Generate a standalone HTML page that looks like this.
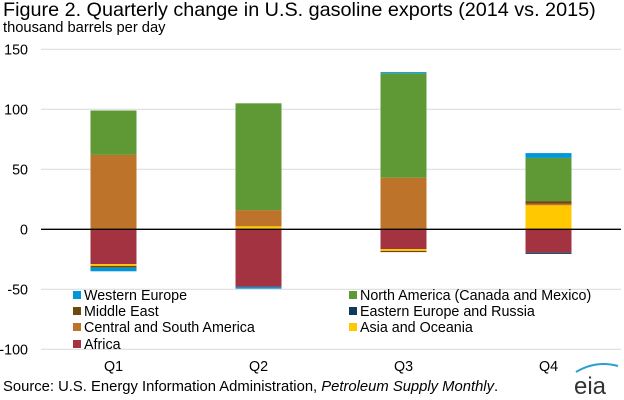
<!DOCTYPE html>
<html><head><meta charset="utf-8"><style>
body{margin:0;width:624px;height:400px;background:#fff;font-family:"Liberation Sans",Arial,sans-serif;overflow:hidden;position:relative}
.t{position:absolute;white-space:nowrap;color:#000}
</style></head><body>
<div class="t" style="left:3px;top:-1px;font-size:19.8px">Figure 2. Quarterly change in U.S. gasoline exports (2014 vs. 2015)</div>
<div class="t" style="left:3px;top:20px;font-size:14.7px">thousand barrels per day</div>
<div class="t" style="left:3px;top:379px;font-size:14.8px">Source: U.S. Energy Information Administration, <i>Petroleum Supply Monthly</i>.</div>
<svg id="chart" width="624" height="400" style="position:absolute;left:0;top:0">
<g id="grid"></g><g id="bars"></g><g id="axis"></g><g id="legend"></g>
<g>
<path d="M576 372 Q596 360 618 366" stroke="#2a9fd6" stroke-width="2" fill="none"/>
<text x="574" y="394" font-size="24" fill="#333" font-family="Liberation Sans">eia</text>
</g>
</svg>
<script>
const categories=["Q1","Q2","Q3","Q4"];
const seriesNames=["Africa","Asia and Oceania","Central and South America","Eastern Europe and Russia","Middle East","North America (Canada and Mexico)","Western Europe"];
const seriesColors=["#a33340","#ffc800","#bd732a","#0f3a5c","#6b4a10","#5f9935","#0097d9"];
const africa=[-29,-48,-16.5,-19.5];
const asia=[-1.5,2.5,-1.5,20];
const csa=[62,13.5,43,1.5];
const eeur=[0,0,0,-1];
const mideast=[-1.5,0,-1,2];
const namerica=[37,89,87,36];
const weur=[-3,-1.5,1,4];
const yTicks=[150,100,50,0,-50,-100];
const series=[africa,asia,csa,eeur,mideast,namerica,weur];
const NS="http://www.w3.org/2000/svg";
const L=41,R=621,Y0=229.3,K=1.2;
const y=v=>Y0-v*K;
const bw=(R-L)/categories.length;
const cx=i=>L+bw*(i+0.5);
function mk(t,a,p){const e=document.createElementNS(NS,t);for(const k in a)e.setAttribute(k,a[k]);p.appendChild(e);return e;}
const grid=document.getElementById('grid'),bars=document.getElementById('bars'),axis=document.getElementById('axis'),leg=document.getElementById('legend');
yTicks.forEach(v=>{
 if(v!==0){const g=mk('line',{x1:L,x2:R,y1:y(v),y2:y(v),stroke:'#d9d9d9','stroke-width':1},grid);
 
 }
 const t=mk('text',{x:L-13,y:y(v)+5,'text-anchor':'end','font-size':14.3,fill:'#000'},axis);t.textContent=v;
 
 
});
categories.forEach((c,i)=>{
 let pos=0,neg=0;
 series.forEach((s,j)=>{
  const v=s[i];if(!v)return;
  let top,bot;
  if(v>0){bot=pos;pos+=v;top=pos;}else{top=neg;neg+=v;bot=neg;}
  const r=mk('rect',{x:cx(i)-23,width:46,y:y(top),height:(top-bot)*K,fill:seriesColors[j]},bars);
  
  
 });
 const t=mk('text',{x:cx(i),y:371,'text-anchor':'middle','font-size':14.3},axis);t.textContent=c;
 
 
});
const z=mk('line',{x1:L,x2:R,y1:Y0,y2:Y0,stroke:'#000','stroke-width':1.3},axis);


const legOrder=[[6,73,295],[5,349,295],[4,73,311],[3,349,311],[2,73,327],[1,349,327],[0,73,344]];
legOrder.forEach(([j,x0,y0])=>{
 const g=mk('g',{},leg);
 
 
 mk('rect',{x:x0,y:y0-4,width:8,height:8,fill:seriesColors[j]},g);
 const t=mk('text',{x:x0+11,y:y0+5,'font-size':14.3},g);t.textContent=seriesNames[j];
});
</script>
</body></html>
